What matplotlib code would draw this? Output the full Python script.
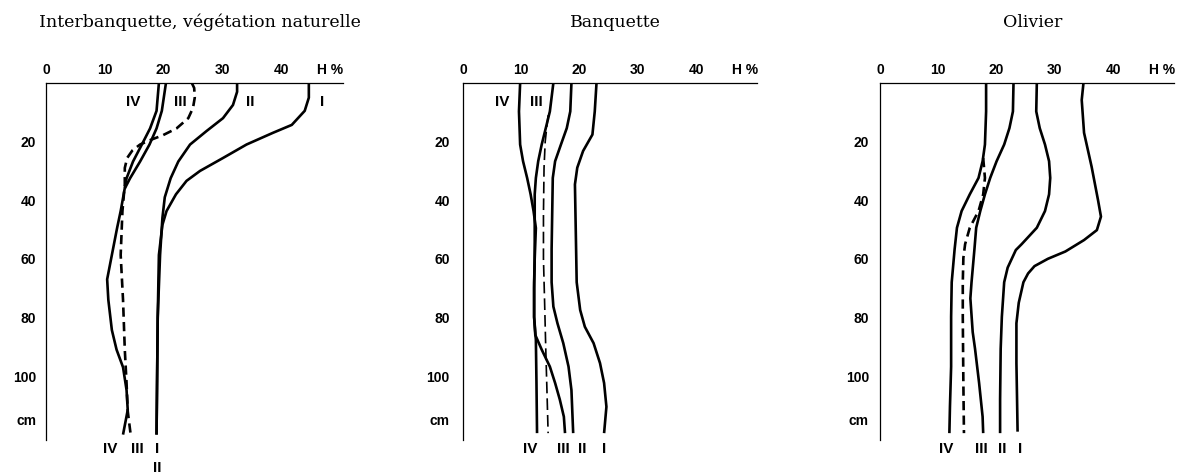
import matplotlib
matplotlib.use('Agg')
import matplotlib.pyplot as plt

# moisture profiles H % versus depth (cm)
titles = ['Interbanquette, végétation naturelle', 'Banquette', 'Olivier']

# panel 1 : interbanquette
p1_I_d = [0, 5, 9.5, 14.3, 17, 21, 25.6, 30, 33.4, 38, 43.7, 48.4, 58.7, 80, 100, 120]
p1_I_v = [44.7, 44.7, 44, 41.8, 38.6, 34.1, 30.1, 26.2, 23.9, 22.1, 20.5, 19.8, 19.2, 19.0, 18.9, 18.8]
p1_II_d = [0, 3, 7.5, 12, 16.4, 21, 26.8, 32.5, 39, 46, 58.7, 80, 100, 120]
p1_II_v = [32.5, 32.5, 31.8, 30.1, 27.3, 24.5, 22.5, 21.2, 20.2, 19.8, 19.4, 19.0, 18.9, 18.8]
p1_IIIa_d = [0, 9.5, 15.5, 21, 26.8, 32.5, 36]
p1_IIIa_v = [20.4, 19.7, 18.8, 17.6, 16.0, 14.3, 13.4]
p1_IV_d = [0, 9.5, 15.5, 21, 26.8, 32.5, 37, 43.7, 49.4, 58.7, 67, 74, 84.3, 91, 97, 104.8, 111.6, 120]
p1_IV_v = [19.2, 18.8, 17.7, 16.3, 14.8, 13.7, 13.3, 12.7, 12.1, 11.2, 10.4, 10.6, 11.2, 12.0, 13.1, 13.7, 13.9, 13.1]
p1_dash_d = [0, 1.7, 5, 8.5, 12, 15.5, 17.8, 19.5, 21, 23, 25.6, 29, 34.6, 43.7, 58.7, 74, 91, 102.4, 112, 120]
p1_dash_v = [24.8, 25.2, 25.3, 25.0, 24.2, 22.2, 19.9, 17.7, 16.0, 14.7, 13.8, 13.4, 13.4, 13.0, 12.7, 13.1, 13.4, 13.7, 13.9, 14.4]

# panel 2 : banquette
p2_I_d = [0, 9.7, 17.6, 23.2, 28.9, 34.6, 56.7, 68, 77.5, 83.2, 88.8, 95.6, 102.4, 110.5, 119.5]
p2_I_v = [22.9, 22.6, 22.2, 20.6, 19.6, 19.2, 19.4, 19.5, 20.1, 20.9, 22.4, 23.5, 24.2, 24.6, 24.2]
p2_II_d = [0, 9.7, 15.4, 21, 26.7, 32.4, 56.7, 68, 76.3, 82, 88.8, 96.8, 104.8, 119.5]
p2_II_v = [18.6, 18.4, 17.8, 16.8, 15.8, 15.4, 15.2, 15.2, 15.5, 16.2, 17.2, 18.1, 18.6, 18.9]
p2_III_d = [0, 9.7, 15.4, 21, 26.7, 32.4, 38, 48, 60, 70, 80, 86, 91, 96.8, 102.4, 108, 113.9, 119.5]
p2_III_v = [15.5, 14.9, 14.2, 13.5, 12.9, 12.5, 12.3, 12.3, 12.3, 12.2, 12.2, 12.4, 13.5, 14.9, 15.8, 16.6, 17.3, 17.5]
p2_IV_d = [0, 9.7, 21, 26.7, 32.4, 38, 43.7, 49.5, 59.7, 68, 79.8, 87.7, 102, 119.5]
p2_IV_v = [9.8, 9.6, 9.8, 10.3, 11.0, 11.6, 12.1, 12.5, 12.3, 12.2, 12.2, 12.5, 12.6, 12.7]
p2_dash_d = [11, 20, 29, 45, 60, 75, 91, 105, 119.5]
p2_dash_v = [14.6, 14.1, 13.9, 13.8, 13.8, 14.0, 14.2, 14.4, 14.6]

# panel 3 : olivier
p3_I_d = [0, 5.8, 17, 28.6, 40, 45.6, 50.2, 53.6, 57.5, 60, 62.5, 65, 68, 75, 82, 95.6, 107, 119]
p3_I_v = [34.9, 34.6, 35.0, 36.3, 37.4, 37.9, 37.2, 35.0, 31.8, 28.8, 26.5, 25.4, 24.6, 23.8, 23.4, 23.4, 23.5, 23.6]
p3_II_d = [0, 9.7, 15.4, 21, 26.7, 32.4, 38, 43.7, 49.4, 55, 57, 60, 63, 68, 79.8, 90.7, 108, 119.5]
p3_II_v = [26.9, 26.8, 27.4, 28.3, 29.0, 29.2, 29.0, 28.3, 26.9, 24.3, 23.3, 22.6, 21.9, 21.3, 20.9, 20.7, 20.6, 20.6]
p3_III_d = [0, 9.7, 15.4, 21, 26.7, 32.4, 38, 43.7, 49.4, 56.7, 68, 73.5, 85, 90.7, 102.4, 113.9, 119.5]
p3_III_v = [22.9, 22.8, 22.2, 21.3, 20.0, 18.9, 18.0, 17.2, 16.5, 16.2, 15.7, 15.5, 15.9, 16.3, 17.0, 17.6, 17.7]
p3_IV_d = [0, 9.7, 21, 26.7, 32.4, 38, 43.7, 49.4, 56.7, 68, 79.8, 96.8, 110.4, 119.5]
p3_IV_v = [18.2, 18.2, 18.0, 17.6, 16.9, 15.4, 14.0, 13.2, 12.8, 12.3, 12.2, 12.2, 12.0, 11.9]
p3_dash_d = [25.6, 32.4, 38, 43.7, 49.4, 55, 59.7, 68, 79.8, 102.4, 119.5]
p3_dash_v = [17.7, 18.0, 17.7, 16.9, 15.4, 14.6, 14.3, 14.2, 14.2, 14.3, 14.4]

solid = [
    [(p1_I_v, p1_I_d), (p1_II_v, p1_II_d), (p1_IIIa_v, p1_IIIa_d), (p1_IV_v, p1_IV_d)],
    [(p2_I_v, p2_I_d), (p2_II_v, p2_II_d), (p2_III_v, p2_III_d), (p2_IV_v, p2_IV_d)],
    [(p3_I_v, p3_I_d), (p3_II_v, p3_II_d), (p3_III_v, p3_III_d), (p3_IV_v, p3_IV_d)],
]
dashed = [(p1_dash_v, p1_dash_d), (p2_dash_v, p2_dash_d), (p3_dash_v, p3_dash_d)]

# curve names written near the top and below the bottom of the curves
top_names = [
    [('IV', 14.8), ('III', 22.8), ('II', 34.7), ('I', 46.9)],
    [('IV', 6.8), ('III', 12.6)],
    [],
]
bottom_names = [
    [('IV', 10.9), ('III', 15.6), ('I', 18.9)],
    [('IV', 11.5), ('III', 17.2), ('II', 20.4), ('I', 24.2)],
    [('IV', 11.4), ('III', 17.4), ('II', 20.9), ('I', 24.0)],
]

xticks = [0, 10, 20, 30, 40, 48.3]
xlabels = ['0', '10', '20', '30', '40', 'H %']
yticks = [20, 40, 60, 80, 100, 115]
ylabels = ['20', '40', '60', '80', '100', 'cm']

W, H = 1179, 476
fig = plt.figure(figsize=(W / 100, H / 100), dpi=100)

lefts = [46, 463, 880]
xscale = [5.88, 5.83, 5.83]
ypads = [7, 9.5, 8]
top_px = 83
dmax = 122
ypx = 2.93
sans = 'Liberation Sans'

for k in range(3):
    wpx = 50.5 * xscale[k]
    hpx = dmax * ypx
    ax = fig.add_axes([lefts[k] / W, (H - top_px - hpx) / H, wpx / W, hpx / H])
    for v, d in solid[k]:
        ax.plot(v, d, color='black', lw=1.9, solid_joinstyle='round', solid_capstyle='butt')
    dv, dd = dashed[k]
    if k == 1:
        ax.plot(dv, dd, color='black', lw=1.2, dashes=(7, 3))
    else:
        ax.plot(dv, dd, color='black', lw=1.9, dashes=(3.5, 2))
    ax.set_xlim(0, 50.5)
    ax.set_ylim(dmax, 0)
    ax.spines['right'].set_visible(False)
    ax.spines['bottom'].set_visible(False)
    ax.spines['top'].set_linewidth(0.9)
    ax.spines['left'].set_linewidth(0.9)
    ax.xaxis.tick_top()
    ax.set_xticks(xticks)
    ax.set_xticklabels(xlabels, fontsize=10, family=sans, fontweight='bold')
    ax.set_yticks(yticks)
    ax.set_yticklabels(ylabels, fontsize=10, family=sans, fontweight='bold')
    ax.tick_params(axis='x', length=0, pad=4.5)
    ax.tick_params(axis='y', length=0, pad=ypads[k])
    for name, x in top_names[k]:
        ax.text(x, 6.5, name, ha='center', va='center', fontsize=11,
                fontweight='bold', family=sans)
    for name, x in bottom_names[k]:
        ax.text(x, 124.8, name, ha='center', va='center', fontsize=11,
                fontweight='bold', family=sans, clip_on=False)
    if k == 0:
        ax.text(19.0, 131.5, 'II', ha='center', va='center', fontsize=11,
                fontweight='bold', family=sans, clip_on=False)
    ax.text(0.518, 1 + 61 / hpx, titles[k], transform=ax.transAxes, ha='center',
            va='center', fontsize=12.5, family='DejaVu Serif')

fig.savefig('out.png', dpi=100)
